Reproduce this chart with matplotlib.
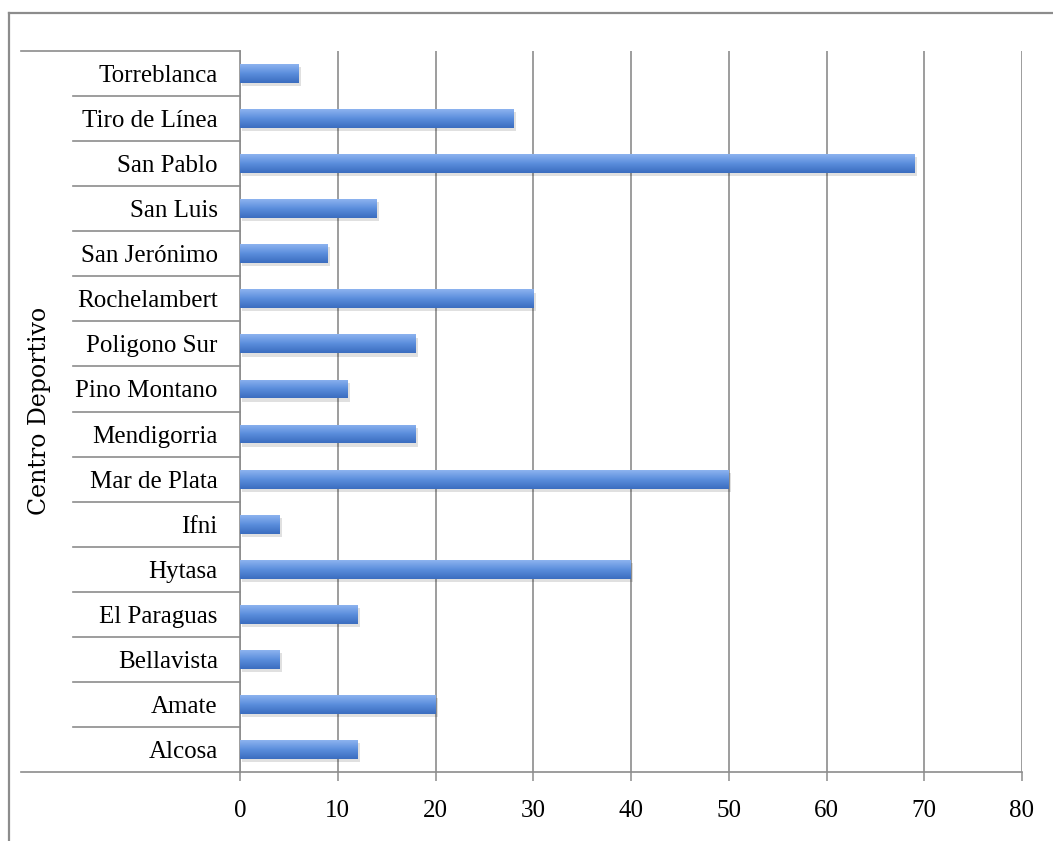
import numpy as np
import matplotlib
matplotlib.use('Agg')
import matplotlib.pyplot as plt
import matplotlib.transforms as mtransforms
from matplotlib.colors import LinearSegmentedColormap
from matplotlib.lines import Line2D

centros = ['Alcosa', 'Amate', 'Bellavista', 'El Paraguas', 'Hytasa', 'Ifni',
           'Mar de Plata', 'Mendigorria', 'Pino Montano', 'Poligono Sur',
           'Rochelambert', 'San Jerónimo', 'San Luis', 'San Pablo',
           'Tiro de Línea', 'Torreblanca']
valores = [12, 20, 4, 12, 40, 4, 50, 18, 11, 18, 30, 9, 14, 69, 28, 6]
x_ticks = [0, 10, 20, 30, 40, 50, 60, 70, 80]

W, H = 1053, 841
grey = '#8c8c8c'
serif = ['Liberation Serif', 'DejaVu Serif']

fig = plt.figure(figsize=(W / 100, H / 100), dpi=100)
ax = fig.add_axes([240 / W, 1 - 772 / H, (1022 - 240) / W, (772 - 51) / H])

y = np.arange(len(centros))
bar_h = 0.42

# soft shadow under bars
ax.barh(y - 0.07, valores, height=bar_h, left=0.25, color='#000000',
        alpha=0.12, zorder=2, linewidth=0)
bars = ax.barh(y, valores, height=bar_h, color='#5b8fdf', zorder=3, linewidth=0)

grad = LinearSegmentedColormap.from_list(
    'g', ['#3b6dbf', '#5a8ddc', '#8db3ef'])
gimg = np.linspace(0, 1, 64).reshape(-1, 1)
for b in bars:
    x0, yb = b.get_x(), b.get_y()
    im = ax.imshow(gimg, cmap=grad, aspect='auto', origin='lower',
                   extent=[x0, x0 + b.get_width(), yb, yb + b.get_height()],
                   zorder=4)
    im.set_clip_path(b)

ax.set_xlim(0, 80)
ax.set_ylim(-0.5, len(centros) - 0.5)
ax.set_xticks(x_ticks)
ax.set_xticklabels([str(t) for t in x_ticks], fontsize=18, family=serif)
ax.set_yticks(y)
ax.set_yticklabels(centros, fontsize=18, family=serif)
ax.tick_params(axis='y', length=0, pad=16)
ax.tick_params(axis='x', length=6.5, width=1.1, color=grey, pad=14)

ax.grid(axis='x', color=grey, linewidth=1.2, zorder=1)
for s in ['top', 'right']:
    ax.spines[s].set_visible(False)
ax.spines['left'].set_color(grey)
ax.spines['left'].set_linewidth(1.2)
ax.spines['bottom'].set_color(grey)
ax.spines['bottom'].set_linewidth(1.2)

# category separators extending into label area
tr = mtransforms.blended_transform_factory(ax.transAxes, ax.transData)
short_x = (73 - 240) / (1022 - 240)
long_x = (21 - 240) / (1022 - 240)
for k in range(1, len(centros)):
    ax.plot([short_x, 0], [k - 0.5, k - 0.5], transform=tr, color=grey,
            linewidth=1.2, clip_on=False)
ax.plot([long_x, 0], [len(centros) - 0.5] * 2, transform=tr, color=grey,
        linewidth=1.2, clip_on=False)
ax.plot([long_x, 0], [-0.5, -0.5], transform=tr, color=grey,
        linewidth=1.2, clip_on=False)

fig.text(40 / W, 1 - 411 / H, 'Centro Deportivo', rotation=90,
         ha='center', va='center', fontsize=17, family=['DejaVu Serif'])

# outer frame
fig.add_artist(Line2D([9 / W, 1], [1 - 13 / H, 1 - 13 / H],
                      transform=fig.transFigure, color=grey, linewidth=1.6))
fig.add_artist(Line2D([9 / W, 9 / W], [0, 1 - 13 / H],
                      transform=fig.transFigure, color=grey, linewidth=1.6))

fig.savefig('out.png', dpi=100)
